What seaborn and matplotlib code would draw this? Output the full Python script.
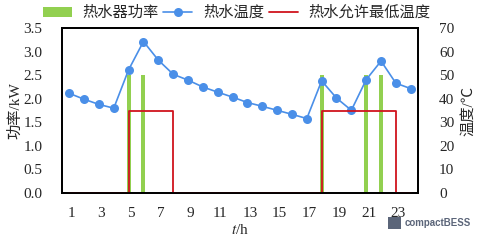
import numpy as np
import pandas as pd
import matplotlib
matplotlib.use("Agg")
import matplotlib.pyplot as plt
import matplotlib.transforms as mtransforms
from matplotlib.patches import Patch, Rectangle
from matplotlib.lines import Line2D
import seaborn as sns

# ---------------- data ----------------
hours = list(range(1, 25))
power_kw = [0, 0, 0, 0, 2.5, 2.5, 0, 0, 0, 0, 0, 0,
            0, 0, 0, 0, 0, 2.5, 0, 0, 2.5, 2.5, 0, 0]
water_temp = [42.3, 39.8, 37.6, 36.0, 52.3, 64.3, 56.4, 50.4, 47.9, 45.0, 42.8, 40.7,
              38.4, 36.8, 35.1, 33.4, 31.6, 47.6, 40.3, 35.1, 48.1, 56.0, 46.6, 44.3]
min_temp = [0, 0, 0, 0, 35, 35, 35, 0, 0, 0, 0, 0,
            0, 0, 0, 0, 0, 35, 35, 35, 35, 35, 0, 0]
xtick_vals = [1, 3, 5, 7, 9, 11, 13, 15, 17, 19, 21, 23]
left_ticks = [0.0, 0.5, 1.0, 1.5, 2.0, 2.5, 3.0, 3.5]
right_ticks = [0, 10, 20, 30, 40, 50, 60, 70]
legend_labels = ["热水器功率", "热水温度", "热水允许最低温度"]

df = pd.DataFrame({"hour": hours, "power": power_kw,
                   "temp": water_temp, "tmin": min_temp})

GREEN = "#92D050"
BLUE = "#4A8FE8"
RED = "#D0141E"

sns.set_style("white")
plt.rcParams["font.family"] = ["Liberation Serif", "Noto Sans CJK SC", "DejaVu Sans"]
plt.rcParams["mathtext.fontset"] = "stix"
cjk = ["Noto Sans CJK SC", "DejaVu Sans"]

fig = plt.figure(figsize=(4.79, 2.42), dpi=100)
ax = fig.add_axes([0.129, 0.2025, 0.744, 0.6815])
ax2 = ax.twinx()

# bars (left axis)
sns.barplot(data=df, x="hour", y="power", ax=ax, native_scale=True,
            color=GREEN, saturation=1, width=0.27, errorbar=None, linewidth=0)

# temperature line and minimum temperature step (right axis)
sns.lineplot(data=df, x="hour", y="temp", ax=ax2, color=BLUE, marker="o",
             markersize=6.5, markeredgewidth=0, linewidth=1.2, legend=False)
sns.lineplot(data=df, x="hour", y="tmin", ax=ax2, color=RED,
             drawstyle="steps-post", linewidth=1.3, legend=False)

ax.set_xlim(0.5, 24.5)
ax.set_ylim(0, 3.5)
ax2.set_ylim(0, 70)

ax.set_xticks(xtick_vals)
ax.set_xticklabels([str(v) for v in xtick_vals], fontsize=11)
ax.set_yticks(left_ticks)
ax.set_yticklabels([f"{v:.1f}" for v in left_ticks], fontsize=11)
ax2.set_yticks(right_ticks)
ax2.set_yticklabels([str(v) for v in right_ticks], fontsize=11)

ax.tick_params(axis="x", length=0, pad=10)
ax.tick_params(axis="y", length=0, pad=14)
ax2.tick_params(axis="y", length=0, pad=15)

offset = mtransforms.ScaledTranslation(2.5 / 100, 0, fig.dpi_scale_trans)
for lbl in ax.get_xticklabels():
    lbl.set_transform(lbl.get_transform() + offset)

ax.set_xlabel("$t$/h", fontsize=11, labelpad=2)
ax.set_ylabel("功率/kW", fontsize=11, labelpad=1)
ax2.set_ylabel("温度/℃", fontsize=11, labelpad=5)

for a in (ax, ax2):
    for s in a.spines.values():
        s.set_color("black")
        s.set_linewidth(1.3)
ax.grid(False)
ax2.grid(False)

handles = [Patch(facecolor=GREEN, edgecolor="none"),
           Line2D([], [], color=BLUE, marker="o", markersize=6.5,
                  markeredgewidth=0, linewidth=1.2),
           Line2D([], [], color=RED, linewidth=1.3)]
fig.legend(handles, legend_labels, loc="center", bbox_to_anchor=(0.494, 0.948),
           ncol=3, frameon=False, handlelength=1.9, handleheight=0.6,
           columnspacing=0.3, handletextpad=0.7, borderaxespad=0,
           prop={"family": cjk, "size": 11})

# corner logo
fig.patches.append(Rectangle((388 / 479, 1 - 229 / 242), 13 / 479, 12 / 242,
                             transform=fig.transFigure, facecolor="#5B6579",
                             edgecolor="none"))
fig.text(405 / 479, 1 - 223 / 242, "compactBESS", fontsize=7,
         family=["Liberation Sans", "DejaVu Sans"], fontweight="bold",
         color="#5B6579", va="center", ha="left")

fig.savefig("out.png", dpi=100)
